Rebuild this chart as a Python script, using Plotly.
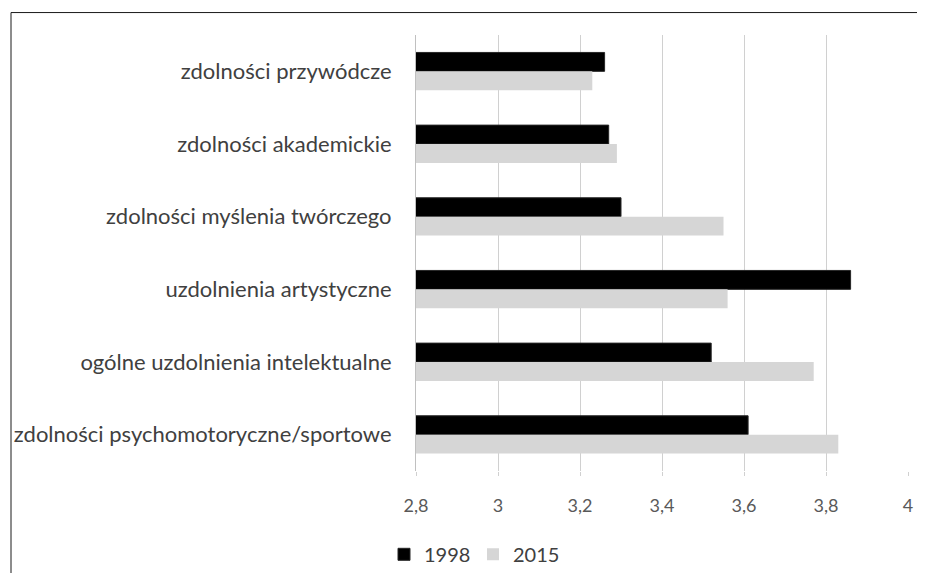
import plotly.graph_objects as go

categories = [
    "zdolności przywódcze",
    "zdolności akademickie",
    "zdolności myślenia twórczego",
    "uzdolnienia artystyczne",
    "ogólne uzdolnienia intelektualne",
    "zdolności psychomotoryczne/sportowe",
]
values_1998 = [3.26, 3.27, 3.30, 3.86, 3.52, 3.61]
values_2015 = [3.23, 3.29, 3.55, 3.56, 3.77, 3.83]
x_ticks = [2.8, 3.0, 3.2, 3.4, 3.6, 3.8, 4.0]

# page body has an 8px margin; figure coordinates are page - 8
W, H = 917, 565
L, R, T, B = 408, 17, 26.5, 101.5
pw, ph = W - L - R, H - T - B

fig = go.Figure()
fig.add_trace(go.Bar(y=categories, x=values_1998, name="1998", orientation="h",
                     marker=dict(color="#000000", line=dict(color="#262626", width=1))))
fig.add_trace(go.Bar(y=categories, x=values_2015, name="2015", orientation="h",
                     marker=dict(color="#d6d6d6", line=dict(width=0))))

fig.update_layout(
    width=W, height=H,
    margin=dict(l=L, r=R, t=T, b=B, autoexpand=False),
    paper_bgcolor="white", plot_bgcolor="white",
    barmode="group", bargap=0.48, bargroupgap=0,
    separators=", ",
    font=dict(family="Lato, Carlito, sans-serif", color="#404040", size=20),
    showlegend=True,
    legend=dict(orientation="h", x=(376 - L) / pw, xanchor="left",
                y=(T + ph - 547) / ph, yanchor="middle",
                font=dict(size=20, color="#404040"), itemwidth=30,
                entrywidth=44, entrywidthmode="pixels",
                bgcolor="rgba(0,0,0,0)"),
    shapes=[dict(type="rect", xref="paper", yref="paper",
                 x0=(3 - L) / pw, x1=1.2, y0=-0.4, y1=(T + ph - 4) / ph,
                 line=dict(color="#1a1a1a", width=1), fillcolor="rgba(0,0,0,0)")],
)
fig.update_xaxes(range=[2.8, 4.0], tickvals=x_ticks, showgrid=True, gridcolor="#d0d0d0",
                 gridwidth=1, zeroline=False, showline=False, ticks="outside",
                 ticklen=4, tickcolor="#d0d0d0", tickfont=dict(size=18, color="#595959"),
                 ticklabelstandoff=14, automargin=False)
fig.update_yaxes(autorange="reversed", showgrid=False, showline=True, linecolor="#c0c0c0",
                 linewidth=1, ticks="", tickfont=dict(size=22, color="#404040"),
                 ticklabelstandoff=19, automargin=False)

fig.write_html("out.html")
